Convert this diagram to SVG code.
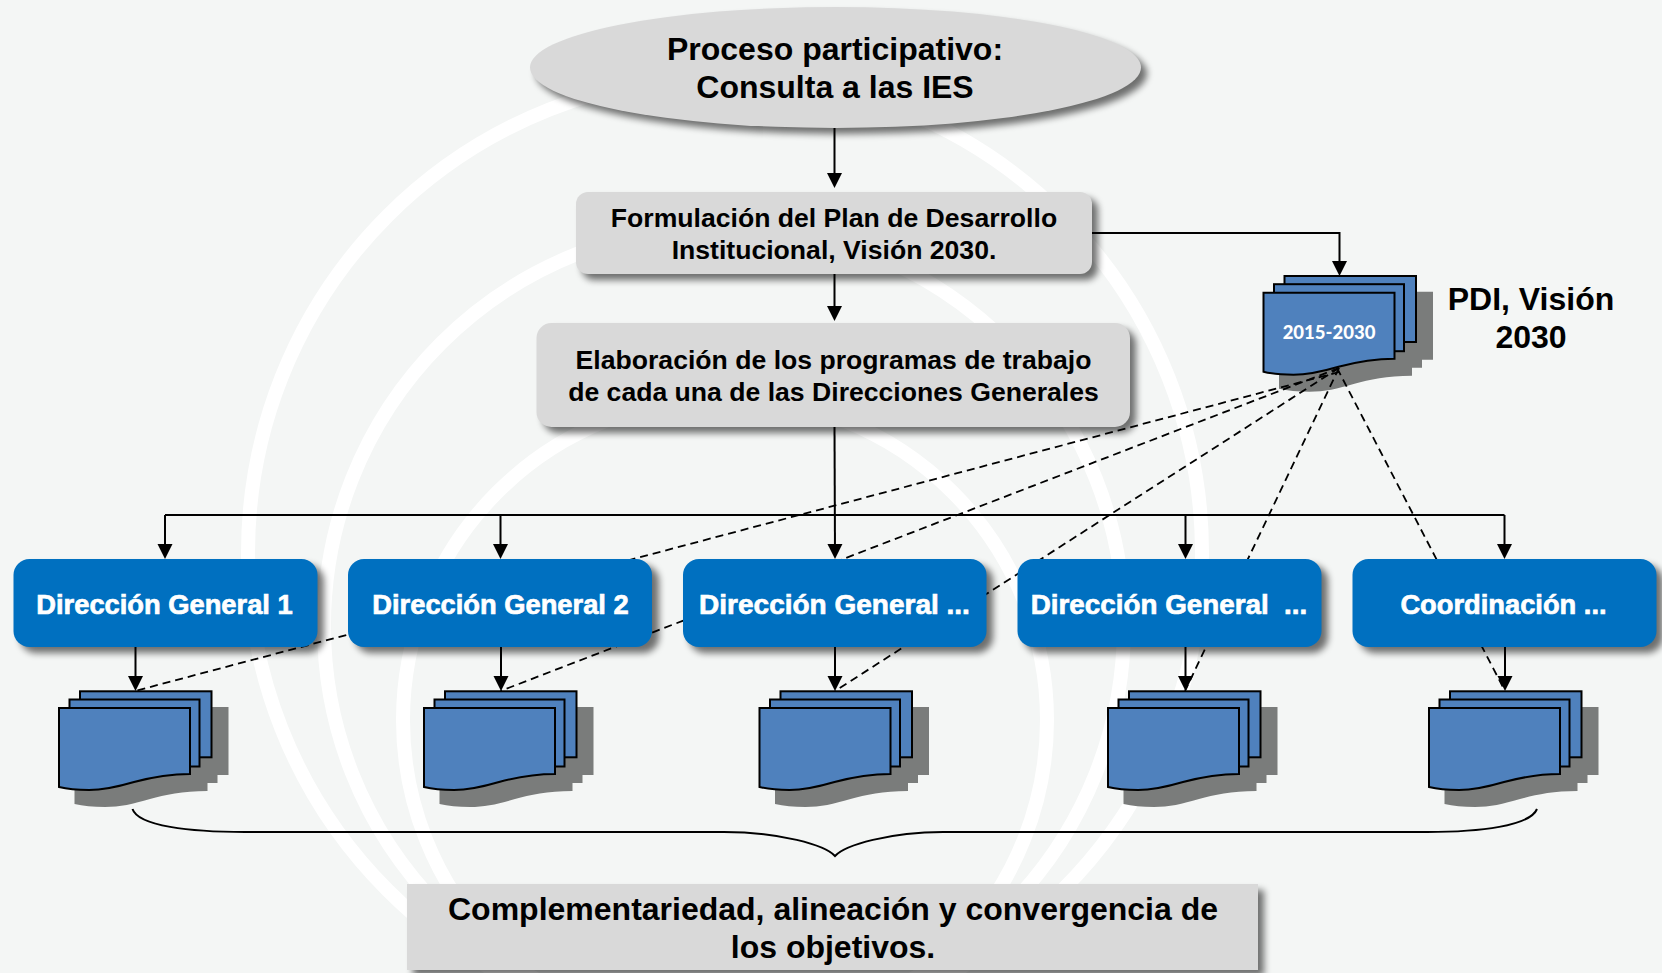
<svg xmlns="http://www.w3.org/2000/svg" width="1662" height="973" viewBox="0 0 1662 973">
<style>
text{font-family:"Liberation Sans",Arial,sans-serif;font-weight:700;text-anchor:middle;fill:#000;white-space:pre}
.grey{fill:#d9d9d9}
.blue{fill:#0070c0}
.bt{fill:#fff;font-size:27.3px;stroke:#fff;stroke-width:.7px}
.sh{fill:#000;opacity:.55;filter:url(#blur)}
.ring{fill:none;stroke:#fff;stroke-width:14}
.link{fill:none;stroke:#000;stroke-width:2}
.arrow{marker-end:url(#head)}
.dash{fill:none;stroke:#000;stroke-width:1.8;stroke-dasharray:8 5}
.page{fill:#4f81bd;stroke:#000;stroke-width:2}
.pshadow{fill:#7a7c7b}
</style>
<defs>
<filter id="blur" x="-10%" y="-30%" width="120%" height="160%"><feGaussianBlur stdDeviation="3.5"/></filter>
<marker id="head" markerUnits="userSpaceOnUse" markerWidth="16" markerHeight="16" refX="11" refY="8" orient="auto"><path d="M0,0.5L15,8L0,15.5Z" fill="#000"/></marker>
<path id="docshadow" class="pshadow" d="M37,-1H169.500V67H158.500V75H148.500V83C123,83 106,87 91,91C74,96 61,99 46,99C34,99 24,98 15.500,96V20Z"/>
<g id="docpages">
<rect class="page" x="21" y="-16.7" width="131.500" height="66"/>
<rect class="page" x="10.5" y="-8.5" width="130" height="67"/>
<path class="page" d="M0,0H131V66C107,66 90,70 75,74C58,79 45,82 30,82C18,82 8,81 0,79Z"/>
</g>
</defs>
<rect width="1662" height="973" fill="#f4f6f5"/>
<g id="rings">
<circle class="ring" cx="725" cy="553" r="477"/>
<circle class="ring" cx="724" cy="626" r="400"/>
<circle class="ring" cx="725" cy="720" r="322"/>
</g>
<g id="shadows">
<ellipse class="sh" cx="841.5" cy="73.5" rx="305.5" ry="60.5"/>
<rect class="sh" x="582" y="198" width="516" height="82" rx="12"/>
<rect class="sh" x="543" y="329" width="593" height="104" rx="15"/>
<rect class="sh" x="20" y="565" width="304" height="88" rx="16"/>
<rect class="sh" x="355" y="565" width="304" height="88" rx="16"/>
<rect class="sh" x="689" y="565" width="304" height="88" rx="16"/>
<rect class="sh" x="1024" y="565" width="304" height="88" rx="16"/>
<rect class="sh" x="1359" y="565" width="304" height="88" rx="16"/>
<rect class="sh" x="413" y="890" width="851" height="86"/>
<use href="#docshadow" x="1263.500" y="292.700"/>
<use href="#docshadow" x="59" y="708"/>
<use href="#docshadow" x="424" y="708"/>
<use href="#docshadow" x="759.500" y="708"/>
<use href="#docshadow" x="1108" y="708"/>
<use href="#docshadow" x="1429" y="708"/>
</g>
<g id="connectors">
<path class="dash" d="M1339,372L135,691"/>
<path class="dash" d="M1339,368L500.5,691"/>
<path class="dash" d="M1339,368L835,691"/>
<path class="dash" d="M1339,368L1185,691"/>
<path class="dash" d="M1337,368L1505,691"/>
<path class="link arrow" d="M834.5,128V184"/>
<path class="link arrow" d="M834.5,274V317"/>
<path class="link arrow" d="M1092,233H1339.500V272"/>
<path class="link" d="M165,515H1504.500"/>
<path class="link arrow" d="M834.5,427L835,555"/>
<path class="link arrow" d="M165,515V555"/>
<path class="link arrow" d="M500.5,515V555"/>
<path class="link arrow" d="M1185.5,515V555"/>
<path class="link arrow" d="M1504.5,515V555"/>
<path class="link" d="M132.5,809C138,826 190,832 245,832H724C780,832 825,845 835,856C845,845 890,832 943,832H1427C1480,832 1530,826 1537,809"/>
</g>
<g id="doc-pdi"><use href="#docpages" x="1263.500" y="292.700"/><text x="1329" y="339" style="font-family:Lato,'Open Sans',sans-serif;font-size:18.500px;fill:#fff;font-weight:900">2015-2030</text></g>
<g id="doc-1"><use href="#docpages" x="59" y="708"/></g>
<g id="doc-2"><use href="#docpages" x="424" y="708"/></g>
<g id="doc-3"><use href="#docpages" x="759.500" y="708"/></g>
<g id="doc-4"><use href="#docpages" x="1108" y="708"/></g>
<g id="doc-5"><use href="#docpages" x="1429" y="708"/></g>
<g id="doc-arrows">
<path class="link arrow" d="M135.5,647V687"/>
<path class="link arrow" d="M501,647V687"/>
<path class="link arrow" d="M835,647V687"/>
<path class="link arrow" d="M1185.5,647V687"/>
<path class="link arrow" d="M1505,647V687"/>
</g>
<g id="consulta"><ellipse class="grey" cx="835.5" cy="67.5" rx="305.5" ry="60.5"/>
<text x="835" y="60" font-size="32">Proceso participativo:</text><text x="835" y="97.5" font-size="32">Consulta a las IES</text></g>
<g id="formulacion"><rect class="grey" x="576" y="192" width="516" height="82" rx="12"/>
<text x="834" y="226.5" font-size="26.600">Formulación del Plan de Desarrollo</text><text x="834" y="259" font-size="26.600">Institucional, Visión 2030.</text></g>
<g id="elaboracion"><rect class="grey" x="536.500" y="323" width="593.500" height="104" rx="15"/>
<text x="833.500" y="369" font-size="26.600">Elaboración de los programas de trabajo</text><text x="833.500" y="401" font-size="26.600">de cada una de las Direcciones Generales</text></g>
<g id="dg1"><rect class="blue" x="13.500" y="559" width="304" height="88" rx="16"/><text class="bt" x="164.500" y="614">Dirección General 1</text></g>
<g id="dg2"><rect class="blue" x="348" y="559" width="304" height="88" rx="16"/><text class="bt" x="500.500" y="614">Dirección General 2</text></g>
<g id="dg3"><rect class="blue" x="683" y="559" width="303.500" height="88" rx="16"/><text class="bt" x="834.500" y="614" style="font-size:28px">Dirección General ...</text></g>
<g id="dg4"><rect class="blue" x="1017.500" y="559" width="304" height="88" rx="16"/><text class="bt" x="1169" y="614" style="font-size:27.800px">Dirección General  ...</text></g>
<g id="coord"><rect class="blue" x="1352.500" y="559" width="304" height="88" rx="16"/><text class="bt" x="1503.500" y="614">Coordinación ...</text></g>
<g id="pdi-label"><text x="1531" y="310" font-size="32">PDI, Visión</text><text x="1531" y="348" font-size="32">2030</text></g>
<g id="resultado"><rect class="grey" x="407" y="884" width="851" height="86"/>
<text x="833" y="920" font-size="32">Complementariedad, alineación y convergencia de</text><text x="833" y="958" font-size="32">los objetivos.</text></g>
</svg>
